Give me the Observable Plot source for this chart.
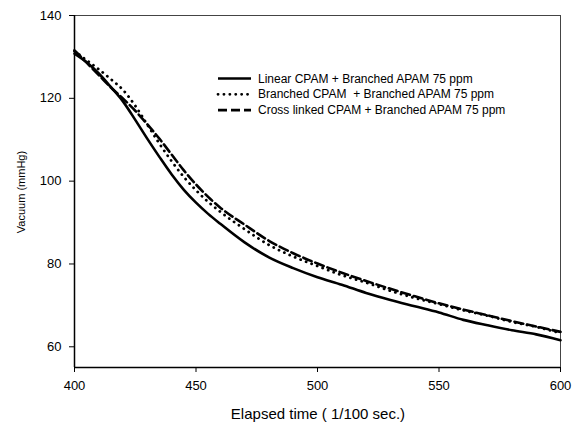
<!DOCTYPE html>
<html><head><meta charset="utf-8">
<script src="https://cdn.jsdelivr.net/npm/d3@7"></script>
<script src="https://cdn.jsdelivr.net/npm/@observablehq/plot@0.6"></script>
<style>body{margin:0;background:#fff}#chart{width:579px;height:425px}</style>
</head><body><div id="chart"></div>
<script>
const time = [400,405,410,415,420,425,430,435,440,445,450,455,460,470,480,490,500,510,520,530,540,550,560,570,580,590,600];
const linearCPAM = [130.8,128.7,126,122.7,119.2,114.8,110.2,105.8,101.6,97.9,94.8,92.1,89.7,85.2,81.6,79,76.8,75,73,71.3,69.8,68.3,66.5,65.2,64,63,61.6];
const branchedCPAM = [131.4,129.2,127,124.6,122,118.2,113.6,109,104.8,101,97.8,95,92.6,88.4,84.6,81.8,79.5,77.3,75.5,73.5,71.8,70.3,68.8,67.5,66,64.8,63.3];
const crossCPAM = [131.6,128.6,125.6,122.6,119.9,117,113.7,110.2,106.4,102.6,99.2,96.2,93.6,89.5,85.6,82.6,80.1,77.9,75.9,74,72.2,70.5,69,67.6,66.2,64.9,63.6];
const seriesNames = ["Linear CPAM + Branched APAM 75 ppm","Branched CPAM  + Branched APAM 75 ppm","Cross linked CPAM + Branched APAM 75 ppm"];
const xTicks = [400,450,500,550,600];
const yTicks = [60,80,100,120,140];
const xLabel = "Elapsed time ( 1/100 sec.)";
const yLabel = "Vacuum (mmHg)";

const rows = (vals) => time.map((t,i)=>({t, v: vals[i]}));
const styles = [
  {stroke:"#000", strokeWidth:2.6},
  {stroke:"#000", strokeWidth:2.8, strokeDasharray:"0.1,5.8", strokeLinecap:"round"},
  {stroke:"#000", strokeWidth:2.6, strokeDasharray:"9,4"}
];
const series = [linearCPAM, branchedCPAM, crossCPAM];

const font = "'Liberation Sans', Arial, sans-serif";
const plot = Plot.plot({
  width: 579, height: 425,
  marginLeft: 74, marginRight: 19, marginTop: 15, marginBottom: 58,
  style: {fontFamily: font, fontSize: "13px", color: "#000", background: "#fff"},
  x: {domain:[400,600], ticks: xTicks, label: null},
  y: {domain:[55,140], ticks: yTicks, label: null},
  marks: [
    Plot.frame({stroke:"#444", strokeWidth:1}),
    Plot.axisX({ticks:xTicks, tickSize:5, tickPadding:8, label:null, fontSize:13}),
    Plot.axisY({ticks:yTicks, tickSize:5, tickPadding:8, label:null, fontSize:13}),
    Plot.ruleX([400], {stroke:"#000", strokeWidth:1.5}),
    Plot.ruleY([55], {stroke:"#000", strokeWidth:1.5}),
    ...series.map((s,i)=>Plot.line(rows(s), {x:"t", y:"v", curve:"monotone-x", ...styles[i]}))
  ]
});
document.getElementById("chart").appendChild(plot);
const svg = d3.select(plot);
// axis titles
svg.append("text").attr("x", 318).attr("y", 419).attr("text-anchor","middle")
  .style("font-family", font).style("font-size","15px").text(xLabel);
svg.append("text").attr("transform","translate(25,192) rotate(-90)").attr("text-anchor","middle")
  .style("font-family", font).style("font-size","11px").text(yLabel);
// legend
const lg = svg.append("g").attr("text-anchor","start");
seriesNames.forEach((name,i)=>{
  const y = 78.5 + i*15.8;
  const st = styles[i];
  lg.append("line").attr("x1",218).attr("x2",251).attr("y1",y).attr("y2",y)
    .attr("stroke","#000").attr("stroke-width", st.strokeWidth)
    .attr("stroke-dasharray", st.strokeDasharray || null)
    .attr("stroke-linecap", st.strokeLinecap || null);
  lg.append("text").attr("x",258).attr("y",y+4).attr("text-anchor","start")
    .style("font-family",font).style("font-size","12px").text(name);
});
</script></body></html>
